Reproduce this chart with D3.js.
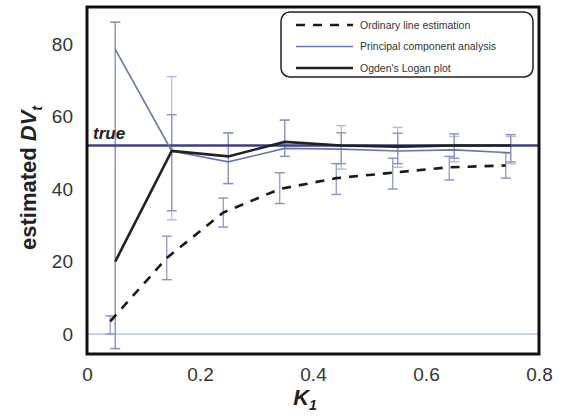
<!DOCTYPE html>
<html>
<head>
<meta charset="utf-8">
<script src="https://cdn.jsdelivr.net/npm/d3@7"></script>
<style>
  body { margin:0; background:#fff; }
  svg { font-family: Arial, "Liberation Sans", sans-serif; }
</style>
</head>
<body>
<svg id="chart" width="569" height="416"></svg>
<script>
// K1 values
const k1 = [0.05, 0.15, 0.25, 0.35, 0.45, 0.55, 0.65, 0.75];
const trueDV = 52;

// Ordinary line estimation (dashed)
const ordVal = [3.5, 21, 33.5, 40, 43, 44.5, 46, 46.5];
const ordLo  = [0, 15, 29.5, 36, 38.5, 40, 42.5, 43];
const ordHi  = [5, 27, 37.5, 44.5, 47, 48.5, 49, 50];

// Principal component analysis (thin)
const pcaVal = [78.5, 50.5, 47.5, 51.2, 51, 50.5, 50.8, 50];
const pcaLo  = [-4, 31.5, 41.5, 49, 45.5, 46, 47.5, 47];
const pcaHi  = [86, 71, 55.5, 59, 57.5, 57, 54.5, 54.5];

// Ogden's Logan plot (thick)
const loganVal = [20, 50.5, 49, 53, 52, 51.7, 52, 52];
const loganLo  = [-4, 34, 41.5, 49, 47, 47, 48.5, 47.5];
const loganHi  = [86, 60.5, 55.5, 59, 55.5, 55.4, 55.2, 55];

const xTicks = [0, 0.2, 0.4, 0.6, 0.8];
const yTicks = [0, 20, 40, 60, 80];

const svg = d3.select('#chart');
const x = d3.scaleLinear().domain([0, 0.8]).range([87, 539]);
const y = d3.scaleLinear().domain([-5.5, 90.2]).range([354, 7]);

const errColor = '#8a90c4';

// zero line
svg.append('line')
  .attr('x1', x(0)).attr('x2', x(0.8))
  .attr('y1', y(0)).attr('y2', y(0))
  .attr('stroke', '#8fa6d2').attr('stroke-width', 1);

// error bars
function errBars(vals, lo, hi, dx, color){
  const g = svg.append('g');
  k1.forEach((k,i)=>{
    const cx = x(k) + dx;
    g.append('line').attr('x1',cx).attr('x2',cx).attr('y1',y(lo[i])).attr('y2',y(hi[i]))
      .attr('stroke',color).attr('stroke-width',1.2);
    [lo[i], hi[i]].forEach(v=>{
      g.append('line').attr('x1',cx-5).attr('x2',cx+5).attr('y1',y(v)).attr('y2',y(v))
        .attr('stroke',color).attr('stroke-width',1.4);
    });
  });
}
errBars(pcaVal, pcaLo, pcaHi, 0, '#b4b9dc');
errBars(loganVal, loganLo, loganHi, 0, errColor);
errBars(ordVal, ordLo, ordHi, -5, errColor);

// true line
svg.append('line')
  .attr('x1', x(0)).attr('x2', x(0.8))
  .attr('y1', y(trueDV)).attr('y2', y(trueDV))
  .attr('stroke', '#3c4080').attr('stroke-width', 2.5);

const line = vals => d3.line().x((d,i)=>x(k1[i])).y(d=>y(d))(vals);

svg.append('path').attr('d', line(pcaVal)).attr('fill','none')
  .attr('stroke','#6a74b2').attr('stroke-width',1.6);
svg.append('path').attr('d', line(loganVal)).attr('fill','none')
  .attr('stroke','#222').attr('stroke-width',2.6);
svg.append('path').attr('d', d3.line().x((d,i)=>x(k1[i])-5).y(d=>y(d))(ordVal)).attr('fill','none')
  .attr('stroke','#1a1a1a').attr('stroke-width',2.6).attr('stroke-dasharray','9,8');

// true label
svg.append('text').attr('x', 93).attr('y', y(trueDV) - 7)
  .attr('font-size', 17).attr('font-weight','bold').attr('font-style','italic')
  .attr('fill','#222').text('true');

// frame
svg.append('rect').attr('x', 87).attr('y', 7).attr('width', 452).attr('height', 347)
  .attr('fill','none').attr('stroke','#111').attr('stroke-width',3);

// axes (tick labels only)
const xAxis = svg.append('g').attr('transform', `translate(0,${354})`)
  .call(d3.axisBottom(x).tickValues(xTicks).tickSize(0).tickPadding(14).tickFormat(d=>d===0?'0':d3.format('.1f')(d)));
xAxis.select('.domain').remove();
xAxis.selectAll('text').attr('font-size', 19).attr('fill','#333').attr('font-family','Arial, "Liberation Sans", sans-serif');

const yAxis = svg.append('g').attr('transform', `translate(${87},0)`)
  .call(d3.axisLeft(y).tickValues(yTicks).tickSize(0).tickPadding(14));
yAxis.select('.domain').remove();
yAxis.selectAll('text').attr('font-size', 19).attr('fill','#333').attr('font-family','Arial, "Liberation Sans", sans-serif');

// axis titles
const yt = svg.append('text').attr('transform','translate(36,178) rotate(-90)')
  .attr('text-anchor','middle').attr('font-size',22).attr('font-weight','bold').attr('fill','#222');
yt.append('tspan').text('estimated ');
yt.append('tspan').attr('font-style','italic').text('DV');
yt.append('tspan').attr('font-style','italic').attr('font-size',14).attr('dy',6).text('t');

const xt = svg.append('text').attr('x', 305).attr('y', 405)
  .attr('text-anchor','middle').attr('font-size',22).attr('font-weight','bold').attr('font-style','italic').attr('fill','#222');
xt.append('tspan').text('K');
xt.append('tspan').attr('font-size',14).attr('dy',5).text('1');

// legend
const legendItems = [
  {label:'Ordinary line estimation', color:'#1a1a1a', w:2.6, dash:'9,8'},
  {label:'Principal component analysis', color:'#6a74b2', w:1.6, dash:null},
  {label:"Ogden's Logan plot", color:'#222', w:2.6, dash:null}
];
const lg = svg.append('g');
lg.append('rect').attr('x', 281).attr('y', 12).attr('width', 252).attr('height', 65).attr('rx', 9)
  .attr('fill','#fff').attr('stroke','#222').attr('stroke-width',1.5);
legendItems.forEach((d,i)=>{
  const ly = 25 + i*21.5;
  lg.append('line').attr('x1', 296).attr('x2', 353).attr('y1', ly).attr('y2', ly)
    .attr('stroke', d.color).attr('stroke-width', d.w).attr('stroke-dasharray', d.dash);
  lg.append('text').attr('x', 360).attr('y', ly + 3.5).attr('font-size', 10.5).attr('fill','#333').text(d.label);
});
</script>
</body>
</html>
